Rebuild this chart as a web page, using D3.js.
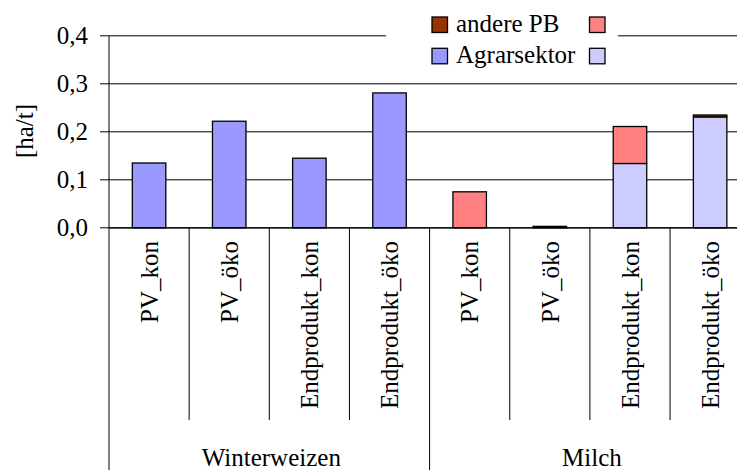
<!DOCTYPE html>
<html>
<head>
<meta charset="utf-8">
<script src="https://cdn.jsdelivr.net/npm/d3@7"></script>
<style>
  html, body { margin: 0; padding: 0; background: #fff; }
  svg { display: block; font-family: "Liberation Serif", "Times New Roman", serif; }
</style>
</head>
<body>
<svg id="chart" width="737" height="470"></svg>
<script>
// ---- data ----
const groups = ["Winterweizen", "Milch"];
const categoryLabels = ["PV_kon", "PV_öko", "Endprodukt_kon", "Endprodukt_öko",
                        "PV_kon", "PV_öko", "Endprodukt_kon", "Endprodukt_öko"];
const categoryGroups = ["Winterweizen", "Winterweizen", "Winterweizen", "Winterweizen",
                        "Milch", "Milch", "Milch", "Milch"];
const agrarWW     = [0.135, 0.222, 0.145, 0.281, 0, 0, 0, 0];
const agrarMilch  = [0, 0, 0, 0, 0, 0, 0.134, 0.231];
const andereMilch = [0, 0, 0, 0, 0.075, 0, 0.077, 0];
const andereWW    = [0, 0, 0, 0, 0, 0.003, 0, 0.004];
const yTicks = [0, 0.1, 0.2, 0.3, 0.4];
const legendRows = [["andere PB", ""], ["Agrarsektor", ""]];

// ---- setup ----
const svg = d3.select("#chart");
const pLeft = 109, pRight = 750.2, pTop = 35.8, pBottom = 227.8;
const fontSize = 25;

const keys = categoryLabels.map((d, i) => i);
const x = d3.scaleBand().domain(keys).range([pLeft, pRight]).paddingInner(0).paddingOuter(0);
const y = d3.scaleLinear().domain([0, 0.4]).range([pBottom, pTop]);

const seriesData = [agrarWW, agrarMilch, andereMilch, andereWW];
const colors = ["#9999FF", "#CCCCFF", "#FF8080", "#993300"];

// gridlines (incl. tick marks)
svg.append("g").selectAll("line").data(yTicks).join("line")
  .attr("x1", pLeft - 9).attr("x2", pRight)
  .attr("y1", d => y(d)).attr("y2", d => y(d))
  .attr("stroke", "#000").attr("stroke-width", 1);

// y axis labels
const yAxis = d3.axisLeft(y).tickValues(yTicks)
  .tickFormat(d => d.toFixed(1).replace(".", ","))
  .tickSize(9).tickPadding(12);
const ga = svg.append("g").attr("transform", `translate(${pLeft},0)`).call(yAxis);
ga.select(".domain").remove();
ga.selectAll(".tick line").remove();
ga.selectAll("text").attr("font-size", fontSize).attr("font-family", "Liberation Serif").attr("fill", "#000");

// stacked bars
const rows = keys.map(i => {
  const o = { i };
  seriesData.forEach((s, k) => o["s" + k] = s[i]);
  return o;
});
const stack = d3.stack().keys(seriesData.map((s, k) => "s" + k));
const stacked = stack(rows);
const barW = 33.5;
stacked.forEach((layer, k) => {
  svg.append("g").selectAll("rect")
    .data(layer.filter(d => d[1] - d[0] > 0))
    .join("rect")
    .attr("x", d => x(d.data.i) + x.bandwidth() / 2 - barW / 2)
    .attr("width", barW)
    .attr("y", d => y(d[1]))
    .attr("height", d => y(d[0]) - y(d[1]))
    .attr("fill", colors[k])
    .attr("stroke", "#000").attr("stroke-width", 1.3);
});

// axes lines
svg.append("line").attr("x1", pLeft).attr("x2", pRight).attr("y1", pBottom).attr("y2", pBottom)
  .attr("stroke", "#000").attr("stroke-width", 1.2);
svg.append("line").attr("x1", pLeft).attr("x2", pLeft).attr("y1", pTop).attr("y2", 470)
  .attr("stroke", "#000").attr("stroke-width", 1);

// category separators
keys.forEach(i => {
  if (i === 0) return;
  const xx = x(i);
  const isGroup = categoryGroups[i] !== categoryGroups[i - 1];
  svg.append("line").attr("x1", xx).attr("x2", xx)
    .attr("y1", pBottom).attr("y2", isGroup ? 470 : 420)
    .attr("stroke", "#000").attr("stroke-width", 1);
});
svg.append("line").attr("x1", pRight).attr("x2", pRight).attr("y1", pBottom).attr("y2", 470)
  .attr("stroke", "#000");

// category labels (rotated)
svg.append("g").selectAll("text").data(keys).join("text")
  .attr("transform", i => `translate(${x(i) + x.bandwidth() / 2},241) rotate(-90)`)
  .attr("text-anchor", "end").attr("dy", "0.35em")
  .attr("font-size", fontSize)
  .text(i => categoryLabels[i]);

// group labels
groups.forEach(g => {
  const idx = keys.filter(i => categoryGroups[i] === g);
  const x0 = x(idx[0]), x1 = x(idx[idx.length - 1]) + x.bandwidth();
  svg.append("text").attr("x", (x0 + x1) / 2 + 2).attr("y", 466)
    .attr("text-anchor", "middle").attr("font-size", fontSize).text(g);
});

// y axis title
svg.append("text").attr("transform", `translate(33,131) rotate(-90)`)
  .attr("text-anchor", "middle").attr("font-size", fontSize).text("[ha/t]");

// legend
const lg = svg.append("g");
lg.append("rect").attr("x", 386).attr("y", 0).attr("width", 232).attr("height", 72).attr("fill", "#fff");
const legendColors = [["#993300", "#FF8080"], ["#9999FF", "#CCCCFF"]];
legendRows.forEach((row, r) => {
  const yy = 17 + r * 31.3;
  row.forEach((label, c) => {
    const xx = c === 0 ? 432 : 589.5;
    lg.append("rect").attr("x", xx).attr("y", yy).attr("width", 15.5).attr("height", 15.5)
      .attr("fill", legendColors[r][c]).attr("stroke", "#000").attr("stroke-width", 1.3);
    if (label) lg.append("text").attr("x", xx + 24).attr("y", yy + 14.5)
      .attr("font-size", fontSize).text(label);
  });
});
</script>
</body>
</html>
